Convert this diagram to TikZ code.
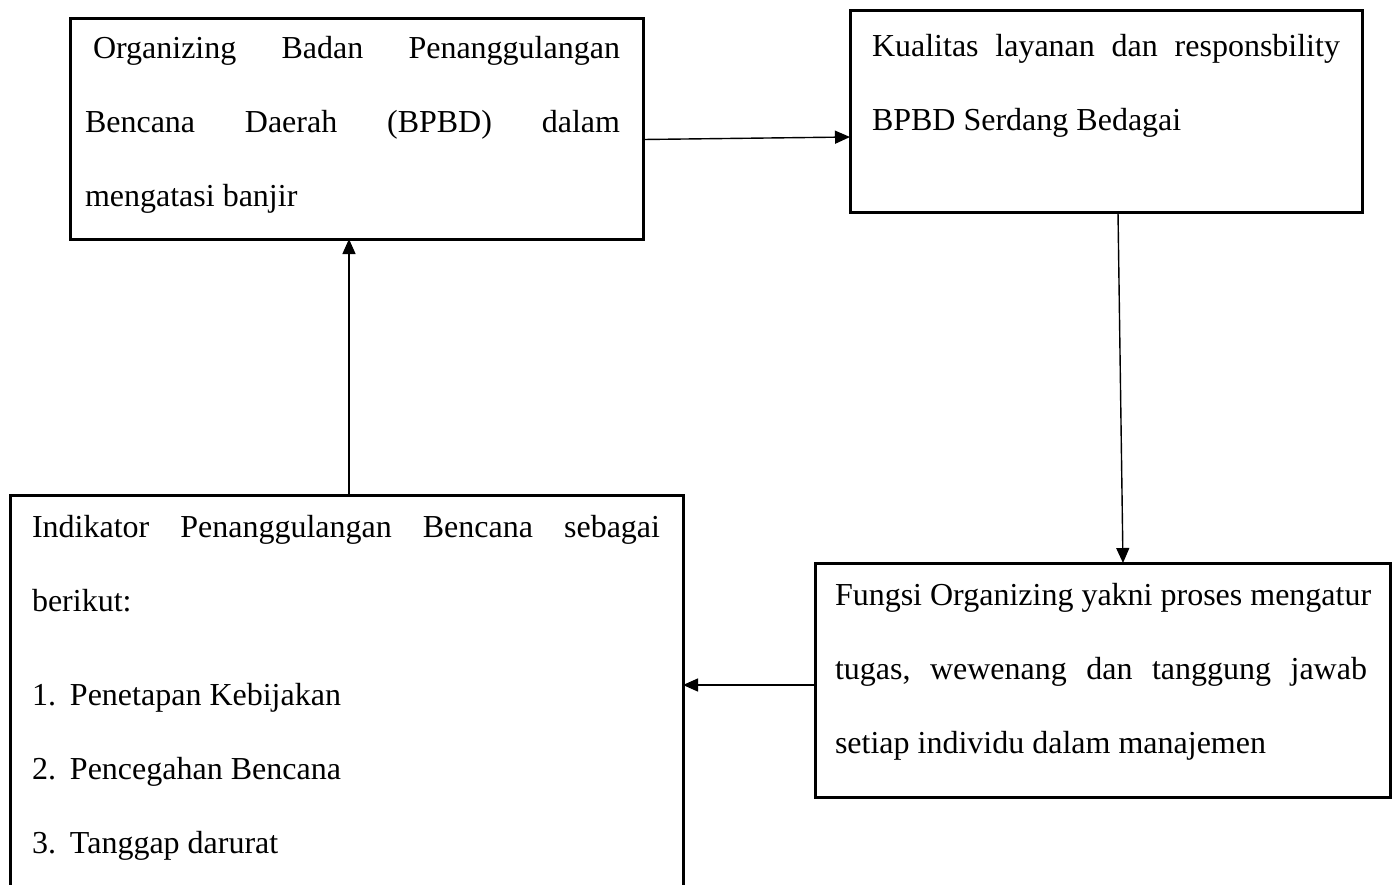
\documentclass[tikz,border=0pt]{standalone}
\usepackage{fontspec}
\setmainfont{Liberation Serif}
\usetikzlibrary{arrows.meta}
\tikzset{
  box/.style={draw, line width=3pt, inner sep=0pt, outer sep=0pt, anchor=center},
  txt/.style={anchor=base west, inner sep=0pt, outer sep=0pt, align=left},
  conn/.style={line width=1.4pt, -{Triangle[length=15pt,width=13pt]}}
}
\newcommand{\boxfont}{\fontsize{32pt}{74pt}\selectfont}
\begin{document}
\begin{tikzpicture}[x=1pt,y=-1pt]
\useasboundingbox (0,0) rectangle (1398,884);
\clip (0,0) rectangle (1398,884);
\fill[white] (0,0) rectangle (1398,884);
% boxes
\node[box, minimum width=573pt, minimum height=221pt] (A) at (356.5,128.5) {};
\node[box, minimum width=512pt, minimum height=202pt] (B) at (1106,111) {};
\node[box, minimum width=673pt, minimum height=405pt] (C) at (346.5,697.5) {};
\node[box, minimum width=575pt, minimum height=234pt] (D) at (1102.5,680) {};
% texts
\node[txt] (tA) at (85,58) {\parbox[t]{535pt}{\boxfont
\makebox[\linewidth][s]{\hspace*{8pt}Organizing\hfill Badan\hfill Penanggulangan}\\
\makebox[\linewidth][s]{Bencana\hfill Daerah\hfill (BPBD)\hfill dalam}\\
mengatasi banjir}};
\node[txt] (tB) at (872,56) {\parbox[t]{468pt}{\boxfont
\makebox[\linewidth][s]{Kualitas\hfill layanan\hfill dan\hfill responsbility}\\
BPBD Serdang Bedagai}};
\node[txt] (tC) at (32,537) {\parbox[t]{628pt}{\boxfont
\makebox[\linewidth][s]{Indikator\hfill Penanggulangan\hfill Bencana\hfill sebagai}\\
berikut:\\[20pt]
\makebox[38pt][l]{1.}Penetapan Kebijakan\\
\makebox[38pt][l]{2.}Pencegahan Bencana\\
\makebox[38pt][l]{3.}Tanggap darurat}};
\node[txt] (tD) at (835,605) {\parbox[t]{540pt}{\boxfont
Fungsi Organizing yakni proses mengatur\\
\makebox[532pt][s]{tugas,\hfill wewenang\hfill dan\hfill tanggung\hfill jawab}\\
setiap individu dalam manajemen}};
% connectors
\draw[conn] ([yshift=-11pt]A.east) -- ([yshift=-26pt]B.west);
\draw[conn] ([xshift=12pt]B.south) -- ([xshift=20.5pt]D.north);
\draw[conn] ([yshift=-5pt]D.west) -- ([yshift=12.5pt]C.east);
\draw[conn] ([xshift=2.5pt]C.north) -- ([xshift=-7.5pt]A.south);
\end{tikzpicture}
\end{document}
